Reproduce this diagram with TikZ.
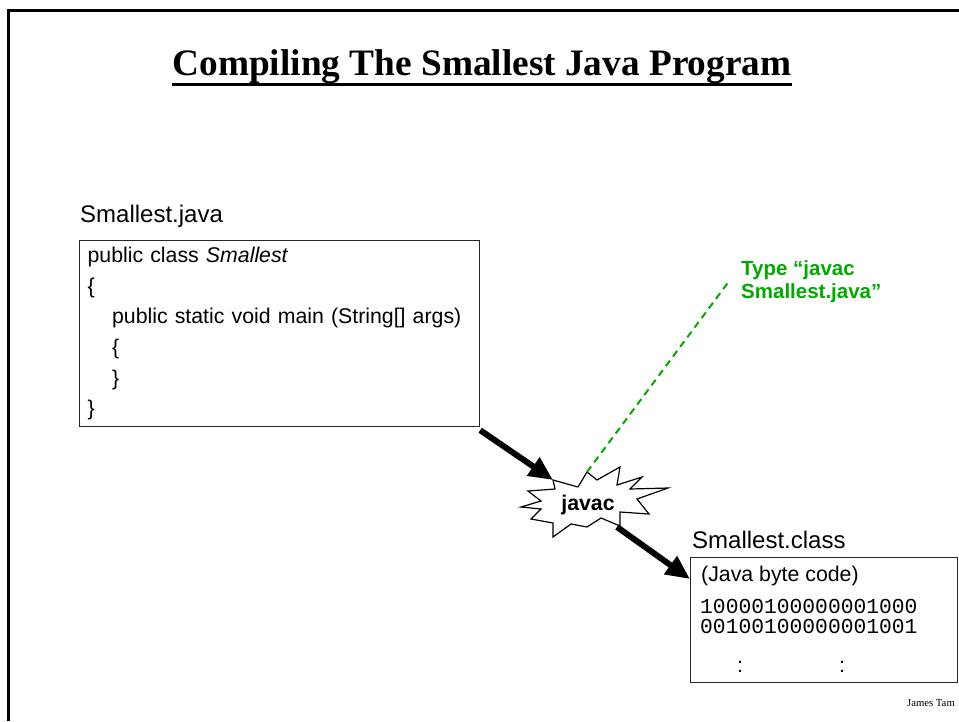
\documentclass[tikz,border=0pt]{standalone}
\usepackage{fontspec}
\setmainfont{Liberation Sans}
\setmonofont{Liberation Mono}
\newfontfamily\titlefont{Liberation Serif}
\usepackage{tikz}
\usetikzlibrary{arrows.meta,positioning,calc}
\definecolor{hintgreen}{RGB}{0,170,0}

\tikzset{
  title text/.style={font=\titlefont\bfseries\fontsize{37.3}{42}\selectfont, inner sep=0pt},
  file label/.style={font=\fontsize{24}{28}\selectfont, inner sep=0pt, anchor=base west},
  code box/.style={draw=black!85, line width=1.2pt, anchor=north west,
    minimum width=400pt, minimum height=186pt, inner xsep=8pt, inner ysep=0pt,
    text width=384pt, align=left, font=\fontsize{21.3}{30.6}\selectfont},
  class box/.style={draw=black!85, line width=1.2pt, anchor=north west,
    minimum width=267pt, minimum height=125pt, inner sep=0pt},
  box text/.style={font=\fontsize{21.3}{25}\selectfont, inner sep=0pt, anchor=base west},
  bits text/.style={font=\ttfamily\fontsize{21.3}{20}\selectfont, inner sep=0pt, anchor=base west},
  burst/.style={draw=black, fill=white, line width=1.2pt, line join=miter},
  burst text/.style={font=\bfseries\fontsize{21.3}{25}\selectfont, inner sep=0pt},
  hint text/.style={text=hintgreen, font=\bfseries\fontsize{20.5}{23}\selectfont,
    inner sep=0pt, anchor=north west, align=left},
  hint line/.style={draw=hintgreen, line width=2pt, dash pattern=on 7pt off 5pt},
  flow/.style={->, line width=6pt},
  credit text/.style={font=\titlefont\fontsize{10.7}{12}\selectfont, inner sep=0pt, anchor=base east}
}

\begin{document}
\begin{tikzpicture}[x=1pt, y=-1pt, >={Triangle[length=24pt,width=21pt]}]
    \useasboundingbox (0,0) rectangle (959,721);

    % slide frame
    \draw[line width=3pt] (8,721) -- (8,10) -- (959,10);

    % title
    \node[title text, anchor=base] (title) at (482,75) {Compiling The Smallest Java Program};
    \draw[line width=3pt] ([yshift=-9pt]title.base west) -- ([yshift=-9pt]title.base east);

    % source file
    \node[file label] (srcname) at (80,222) {Smallest.java};
    \node[code box] (code) at (79,240) {public class \textit{Smallest}\\
      \{\\
      \hspace*{24.5pt}public static void main (String[] args)\\
      \hspace*{24.5pt}\{\\
      \hspace*{24.5pt}\}\\
      \}};

    % compiler burst
    \draw[burst] (553,480) coordinate (burst-tl) -- (578,487) -- (587,472) coordinate (burst-top)
      -- (597,480) -- (620,467) -- (617,485) -- (642,477) -- (630,489) -- (668,488)
      -- (637,499) -- (649,514) -- (620,512) -- (620,526) coordinate (burst-br)
      -- (601,518) -- (587,527) -- (571,524) -- (553,537) -- (553,523) -- (531,519)
      -- (541,509) -- (521,507) -- (541,501) -- (528,491) -- (555,489) -- cycle;
    \node[burst text] (javac) at (588,505) {javac};

    % green hint
    \node[hint text] (hint) at (741,260) {Type “javac\\Smallest.java”};
    \draw[hint line] (burst-top) -- ([xshift=-12pt]hint.west);

    % class file
    \node[file label] (classname) at (692,548) {Smallest.class};
    \node[class box] (class) at (690,557) {};
    \node[box text] (bytecode) at (701,581) {(Java byte code)};
    \node[bits text] (bits1) at (700,613) {10000100000001000};
    \node[bits text] (bits2) at (700,633) {00100100000001001};
    \node[box text] (dots) at (737,672) {:\hspace{96pt}:};

    % arrows
    \draw[flow] ([yshift=-3pt]code.south east) -- (burst-tl);
    \draw[flow] ($(burst-br)+(-3,1)$) -- ([yshift=-22pt]class.north west);

    \node[credit text] (credit) at (955,706) {James Tam};
\end{tikzpicture}
\end{document}
